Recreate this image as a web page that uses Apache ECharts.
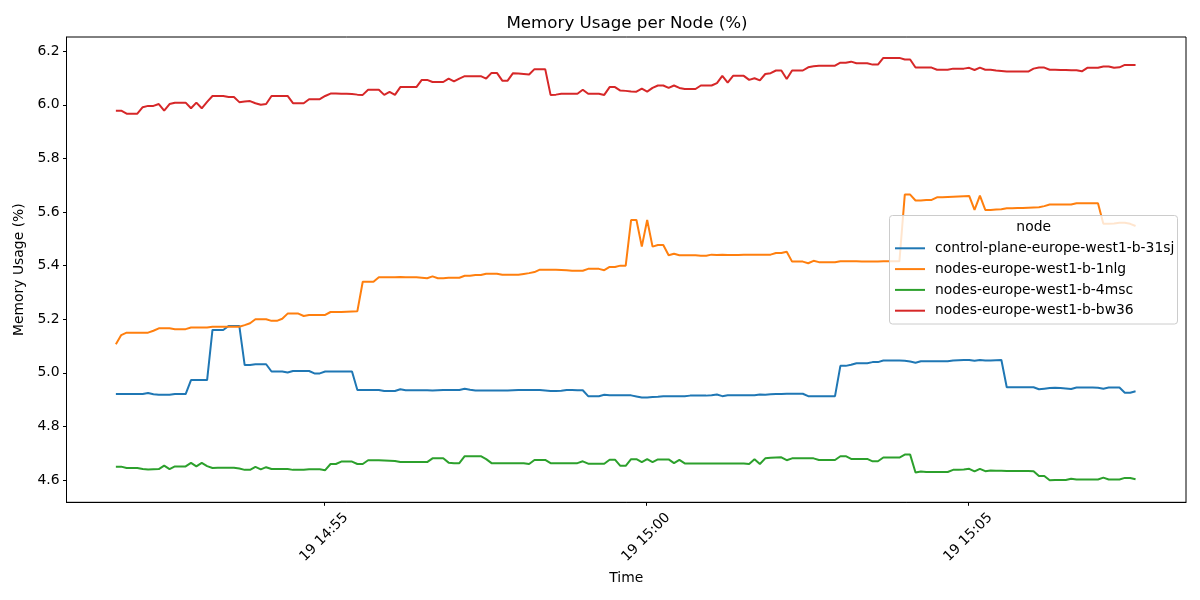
<!DOCTYPE html>
<html>
<head>
<meta charset="utf-8">
<title>Memory Usage per Node (%)</title>
<script src="https://cdn.jsdelivr.net/npm/echarts@6.0.0/dist/echarts.min.js"></script>
<style>
  html, body { margin: 0; padding: 0; background: #fff; }
  #chart { width: 1200px; height: 600px; }
</style>
</head>
<body>
<div id="chart"></div>
<script>
// node names, in legend order
var nodeNames = [
  'control-plane-europe-west1-b-31sj',
  'nodes-europe-west1-b-1nlg',
  'nodes-europe-west1-b-4msc',
  'nodes-europe-west1-b-bw36'
]
var nodeColors = ['#1f77b4', '#ff7f0e', '#2ca02c', '#d62728']

// samples every 5 s, starting 19th 14:51:46
var startTime = Date.UTC(2024, 0, 19, 14, 51, 46)
var stepMs = 5000

var mem31sj = [
  4.921, 4.921, 4.921, 4.921, 4.921, 4.921, 4.925, 4.920, 4.918, 4.918,
  4.918, 4.921, 4.921, 4.921, 4.973, 4.973, 4.973, 4.973, 5.160, 5.160,
  5.160, 5.175, 5.175, 5.175, 5.029, 5.029, 5.032, 5.032, 5.032, 5.005,
  5.005, 5.005, 5.001, 5.007, 5.007, 5.007, 5.007, 4.998, 4.998, 5.005,
  5.005, 5.005, 5.005, 5.005, 5.005, 4.936, 4.936, 4.936, 4.936, 4.936,
  4.932, 4.932, 4.932, 4.939, 4.935, 4.935, 4.935, 4.935, 4.935, 4.934,
  4.935, 4.936, 4.936, 4.936, 4.936, 4.941, 4.937, 4.934, 4.934, 4.934,
  4.934, 4.934, 4.934, 4.934, 4.935, 4.936, 4.936, 4.936, 4.936, 4.936,
  4.934, 4.932, 4.932, 4.933, 4.936, 4.936, 4.935, 4.935, 4.913, 4.913,
  4.913, 4.918, 4.916, 4.916, 4.916, 4.916, 4.916, 4.912, 4.908, 4.908,
  4.910, 4.911, 4.913, 4.913, 4.913, 4.913, 4.913, 4.915, 4.915, 4.915,
  4.915, 4.916, 4.919, 4.913, 4.916, 4.916, 4.916, 4.916, 4.916, 4.916,
  4.919, 4.918, 4.920, 4.921, 4.921, 4.922, 4.922, 4.922, 4.922, 4.913,
  4.913, 4.913, 4.913, 4.913, 4.913, 5.026, 5.026, 5.030, 5.036, 5.036,
  5.036, 5.040, 5.040, 5.046, 5.046, 5.046, 5.046, 5.045, 5.042, 5.038,
  5.043, 5.043, 5.043, 5.043, 5.043, 5.043, 5.046, 5.047, 5.048, 5.048,
  5.045, 5.048, 5.046, 5.046, 5.047, 5.048, 4.946, 4.946, 4.946, 4.946,
  4.946, 4.946, 4.939, 4.941, 4.943, 4.944, 4.943, 4.942, 4.940, 4.945,
  4.945, 4.945, 4.945, 4.944, 4.941, 4.945, 4.945, 4.945, 4.926, 4.926,
  4.931
]
var mem1nlg = [
  5.107, 5.141, 5.150, 5.150, 5.150, 5.150, 5.150, 5.157, 5.166, 5.166,
  5.166, 5.163, 5.163, 5.163, 5.169, 5.169, 5.169, 5.169, 5.172, 5.172,
  5.172, 5.172, 5.172, 5.172, 5.178, 5.185, 5.200, 5.200, 5.200, 5.194,
  5.194, 5.202, 5.221, 5.221, 5.221, 5.212, 5.216, 5.216, 5.216, 5.216,
  5.227, 5.227, 5.227, 5.228, 5.229, 5.230, 5.340, 5.340, 5.340, 5.357,
  5.357, 5.357, 5.357, 5.358, 5.357, 5.357, 5.357, 5.355, 5.353, 5.360,
  5.353, 5.353, 5.355, 5.355, 5.355, 5.362, 5.362, 5.365, 5.365, 5.370,
  5.370, 5.370, 5.366, 5.366, 5.366, 5.366, 5.369, 5.372, 5.376, 5.385,
  5.385, 5.385, 5.385, 5.384, 5.383, 5.381, 5.381, 5.381, 5.388, 5.388,
  5.388, 5.383, 5.395, 5.395, 5.400, 5.400, 5.570, 5.570, 5.471, 5.570,
  5.471, 5.477, 5.477, 5.439, 5.444, 5.439, 5.439, 5.439, 5.439, 5.437,
  5.437, 5.441, 5.440, 5.441, 5.440, 5.440, 5.440, 5.441, 5.441, 5.441,
  5.441, 5.441, 5.441, 5.447, 5.447, 5.452, 5.415, 5.415, 5.415, 5.409,
  5.418, 5.413, 5.413, 5.413, 5.413, 5.416, 5.416, 5.416, 5.416, 5.415,
  5.415, 5.415, 5.415, 5.416, 5.416, 5.416, 5.416, 5.665, 5.665, 5.643,
  5.643, 5.645, 5.645, 5.655, 5.655, 5.656, 5.657, 5.658, 5.659, 5.660,
  5.608, 5.661, 5.608, 5.608, 5.609, 5.610, 5.614, 5.614, 5.615, 5.615,
  5.616, 5.617, 5.618, 5.622, 5.628, 5.628, 5.628, 5.628, 5.628, 5.633,
  5.633, 5.633, 5.633, 5.633, 5.556, 5.556, 5.557, 5.560, 5.560, 5.556,
  5.548
]
var mem4msc = [
  4.650, 4.650, 4.645, 4.645, 4.645, 4.641, 4.639, 4.640, 4.641, 4.654,
  4.641, 4.651, 4.651, 4.651, 4.664, 4.651, 4.664, 4.652, 4.645, 4.646,
  4.646, 4.646, 4.646, 4.643, 4.638, 4.638, 4.649, 4.640, 4.648, 4.641,
  4.641, 4.641, 4.641, 4.638, 4.638, 4.638, 4.640, 4.640, 4.640, 4.637,
  4.660, 4.660, 4.669, 4.669, 4.669, 4.660, 4.660, 4.674, 4.674, 4.674,
  4.673, 4.672, 4.671, 4.667, 4.667, 4.667, 4.667, 4.667, 4.667, 4.681,
  4.681, 4.681, 4.665, 4.663, 4.663, 4.689, 4.689, 4.689, 4.689, 4.678,
  4.663, 4.663, 4.663, 4.663, 4.663, 4.663, 4.663, 4.660, 4.675, 4.675,
  4.675, 4.663, 4.663, 4.663, 4.663, 4.663, 4.663, 4.670, 4.661, 4.661,
  4.661, 4.661, 4.676, 4.676, 4.653, 4.653, 4.678, 4.678, 4.667, 4.678,
  4.667, 4.677, 4.677, 4.677, 4.663, 4.675, 4.662, 4.662, 4.662, 4.662,
  4.662, 4.662, 4.662, 4.662, 4.662, 4.662, 4.662, 4.662, 4.660, 4.678,
  4.660, 4.681, 4.683, 4.684, 4.685, 4.674, 4.681, 4.681, 4.681, 4.681,
  4.681, 4.675, 4.675, 4.675, 4.675, 4.689, 4.689, 4.679, 4.679, 4.679,
  4.679, 4.670, 4.670, 4.684, 4.684, 4.684, 4.684, 4.695, 4.695, 4.628,
  4.632, 4.630, 4.630, 4.630, 4.630, 4.630, 4.638, 4.638, 4.639, 4.642,
  4.632, 4.642, 4.633, 4.636, 4.635, 4.635, 4.634, 4.634, 4.634, 4.634,
  4.634, 4.633, 4.615, 4.615, 4.599, 4.600, 4.600, 4.600, 4.605, 4.602,
  4.602, 4.602, 4.602, 4.602, 4.609, 4.602, 4.602, 4.602, 4.608, 4.608,
  4.603
]
var memBw36 = [
  5.978, 5.978, 5.967, 5.967, 5.967, 5.991, 5.996, 5.996, 6.003, 5.978,
  6.003, 6.008, 6.008, 6.008, 5.987, 6.008, 5.987, 6.011, 6.033, 6.033,
  6.033, 6.029, 6.029, 6.010, 6.012, 6.014, 6.006, 6.000, 6.003, 6.033,
  6.033, 6.033, 6.033, 6.006, 6.006, 6.006, 6.021, 6.021, 6.021, 6.033,
  6.042, 6.042, 6.041, 6.041, 6.040, 6.038, 6.037, 6.056, 6.056, 6.056,
  6.037, 6.048, 6.037, 6.066, 6.066, 6.066, 6.066, 6.093, 6.093, 6.085,
  6.085, 6.085, 6.098, 6.087, 6.098, 6.107, 6.107, 6.107, 6.107, 6.098,
  6.119, 6.119, 6.090, 6.090, 6.118, 6.117, 6.115, 6.113, 6.133, 6.133,
  6.133, 6.037, 6.038, 6.041, 6.041, 6.041, 6.041, 6.056, 6.041, 6.041,
  6.041, 6.037, 6.066, 6.066, 6.053, 6.052, 6.050, 6.049, 6.060, 6.049,
  6.063, 6.072, 6.072, 6.063, 6.072, 6.063, 6.059, 6.059, 6.059, 6.072,
  6.072, 6.072, 6.081, 6.108, 6.083, 6.108, 6.108, 6.108, 6.093, 6.099,
  6.091, 6.115, 6.118, 6.128, 6.128, 6.096, 6.128, 6.128, 6.128, 6.140,
  6.144, 6.146, 6.146, 6.146, 6.146, 6.157, 6.157, 6.161, 6.155, 6.155,
  6.155, 6.150, 6.150, 6.175, 6.175, 6.175, 6.175, 6.169, 6.169, 6.139,
  6.139, 6.139, 6.139, 6.131, 6.131, 6.131, 6.135, 6.135, 6.135, 6.138,
  6.130, 6.139, 6.131, 6.131, 6.128, 6.126, 6.124, 6.124, 6.124, 6.124,
  6.124, 6.135, 6.139, 6.139, 6.131, 6.131, 6.130, 6.130, 6.129, 6.129,
  6.125, 6.138, 6.138, 6.138, 6.143, 6.143, 6.138, 6.140, 6.149, 6.149,
  6.149
]

// tick positions
var xTicks = [Date.UTC(2024, 0, 19, 14, 55), Date.UTC(2024, 0, 19, 15, 0), Date.UTC(2024, 0, 19, 15, 5)]
var yTicks = [4.6, 4.8, 5.0, 5.2, 5.4, 5.6, 5.8, 6.0, 6.2]

var font = 'DejaVu Sans'
var allSeries = [mem31sj, mem1nlg, mem4msc, memBw36]

function pad(n) {
  return n < 10 ? '0' + n : '' + n
}

function withTime(values) {
  return values.map(function (v, i) {
    return [startTime + i * stepMs, v]
  })
}

var chart = echarts.init(document.getElementById('chart'), null, { renderer: 'canvas' })
chart.setOption({
  animation: false,
  backgroundColor: '#fff',
  title: {
    text: 'Memory Usage per Node (%)',
    left: 622,
    top: 10,
    textAlign: 'center',
    textStyle: { fontFamily: font, fontSize: 16.7, fontWeight: 'normal', color: '#000' }
  },
  grid: {
    left: 66.5,
    right: 14,
    top: 37,
    bottom: 97.7,
    show: true,
    borderColor: '#000',
    borderWidth: 1,
    backgroundColor: 'transparent'
  },
  xAxis: {
    type: 'value',
    min: Date.UTC(2024, 0, 19, 14, 51, 0),
    max: Date.UTC(2024, 0, 19, 15, 8, 23),
    name: 'Time',
    nameLocation: 'middle',
    nameGap: 74,
    nameTextStyle: { fontFamily: font, fontSize: 13.9, color: '#000', verticalAlign: 'middle' },
    splitLine: { show: false },
    axisLine: { lineStyle: { color: '#000', width: 1 } },
    axisTick: { customValues: xTicks, length: 3.5, lineStyle: { color: '#000', width: 1 } },
    axisLabel: {
      customValues: xTicks,
      rotate: 45,
      align: 'center',
      verticalAlign: 'middle',
      margin: 35,
      fontFamily: font,
      fontSize: 13.9,
      color: '#000',
      formatter: function (v) {
        var d = new Date(v)
        return pad(d.getUTCDate()) + ' ' + pad(d.getUTCHours()) + ':' + pad(d.getUTCMinutes())
      }
    }
  },
  yAxis: {
    type: 'value',
    min: 4.517,
    max: 6.253,
    name: 'Memory Usage (%)',
    nameLocation: 'middle',
    nameGap: 41.5,
    nameTextStyle: { fontFamily: font, fontSize: 13.9, color: '#000', verticalAlign: 'middle' },
    splitLine: { show: false },
    axisLine: { show: true, lineStyle: { color: '#000', width: 1 } },
    axisTick: { show: true, customValues: yTicks, length: 3.5, lineStyle: { color: '#000', width: 1 } },
    axisLabel: {
      customValues: yTicks,
      margin: 7,
      fontFamily: font,
      fontSize: 13.9,
      color: '#000',
      formatter: function (v) { return v.toFixed(1) }
    }
  },
  // legend frame + "node" heading, drawn like matplotlib's
  graphic: [
    {
      type: 'rect',
      z: 100,
      shape: { x: 889.5, y: 215.5, width: 288, height: 108.5, r: 3 },
      style: { fill: 'rgba(255,255,255,0.8)', stroke: '#cccccc', lineWidth: 1 }
    },
    {
      type: 'text',
      z: 110,
      x: 1033.7,
      y: 227,
      style: {
        text: 'node',
        fontFamily: font,
        fontSize: 13.9,
        fill: '#000',
        textAlign: 'center',
        textVerticalAlign: 'middle'
      }
    }
  ],
  legend: {
    z: 110,
    orient: 'vertical',
    left: 894,
    top: 241.3,
    padding: 0,
    itemWidth: 30,
    itemHeight: 14,
    itemGap: 6.8,
    data: nodeNames,
    itemStyle: { opacity: 0 }, // line only, no marker
    textStyle: { fontFamily: font, fontSize: 13.9, color: '#000', padding: [0, 0, 0, 5] }
  },
  series: allSeries.map(function (values, k) {
    return {
      name: nodeNames[k],
      type: 'line',
      symbol: 'none',
      color: nodeColors[k],
      lineStyle: { width: 2, color: nodeColors[k] },
      data: withTime(values)
    }
  })
})
</script>
</body>
</html>
